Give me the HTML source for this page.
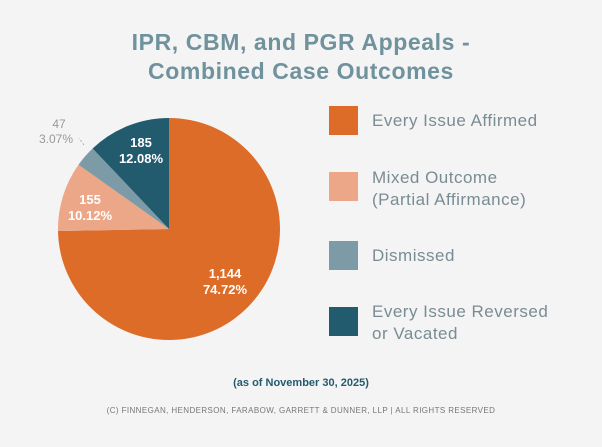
<!DOCTYPE html>
<html><head><style>
body{margin:0;background:#f4f4f4;}
svg{display:block;font-family:"Liberation Sans",sans-serif;}
</style></head><body>
<svg width="602" height="447" viewBox="0 0 602 447">
<rect width="602" height="447" fill="#f4f4f4"/>
<text x="301" y="50" text-anchor="middle" font-size="23" font-weight="bold" fill="#6f929c" letter-spacing="0.6">IPR, CBM, and PGR Appeals -</text>
<text x="301" y="79" text-anchor="middle" font-size="23" font-weight="bold" fill="#6f929c" letter-spacing="0.6">Combined Case Outcomes</text>
<path d="M169,229 L169,118 A111,111 0 1 1 58,231 Z" fill="#dc6c28"/>
<path d="M169,229 L58,231 A111,111 0 0 1 78.5,164.7 Z" fill="#eba787"/>
<path d="M169,229 L78.5,164.7 A111,111 0 0 1 92.6,148.5 Z" fill="#7d9ba6"/>
<path d="M169,229 L92.6,148.5 A111,111 0 0 1 169,118 Z" fill="#235b6e"/>
<line x1="84" y1="145" x2="79" y2="138" stroke="#aaa" stroke-dasharray="2,2"/>
<g font-size="13" font-weight="bold" fill="#fff" text-anchor="middle">
<text x="141" y="147">185</text><text x="141" y="163">12.08%</text>
<text x="90" y="204">155</text><text x="90" y="220">10.12%</text>
<text x="225" y="278">1,144</text><text x="225" y="294">74.72%</text>
</g>
<g font-size="12" fill="#999" text-anchor="middle">
<text x="59" y="128">47</text><text x="56" y="143">3.07%</text>
</g>
<rect x="329" y="106" width="29" height="29" fill="#dc6c28"/>
<rect x="329" y="172" width="29" height="29" fill="#eba787"/>
<rect x="329" y="241" width="29" height="29" fill="#7d9ba6"/>
<rect x="329" y="307" width="29" height="29" fill="#235b6e"/>
<g font-size="17" fill="#7a8c93" letter-spacing="0.5">
<text x="372" y="126">Every Issue Affirmed</text>
<text x="372" y="183">Mixed Outcome</text>
<text x="372" y="205">(Partial Affirmance)</text>
<text x="372" y="261">Dismissed</text>
<text x="372" y="317">Every Issue Reversed</text>
<text x="372" y="339">or Vacated</text>
</g>
<text x="301" y="386" text-anchor="middle" font-size="11" font-weight="bold" fill="#235b6e">(as of November 30, 2025)</text>
<text x="301" y="413" text-anchor="middle" font-size="8" fill="#777" letter-spacing="0.4">(C) FINNEGAN, HENDERSON, FARABOW, GARRETT &amp; DUNNER, LLP | ALL RIGHTS RESERVED</text>
</svg>
</body></html>
